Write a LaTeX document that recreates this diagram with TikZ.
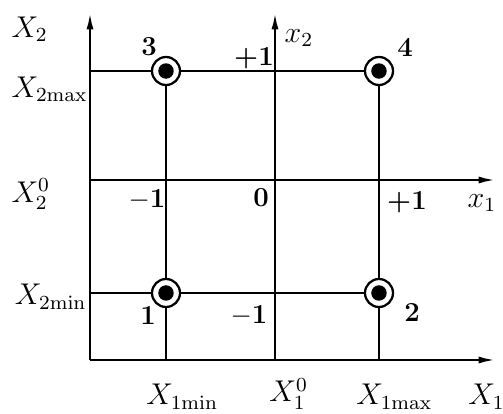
\documentclass[tikz,border=0pt]{standalone}
\usetikzlibrary{arrows.meta}
\begin{document}
\begin{tikzpicture}[x=0.4pt,y=-0.4pt,
  axis/.style={line width=0.9pt,-{Latex[length=6.5pt,width=2.8pt]}},
  grid/.style={line width=0.9pt},
  pt/.style={circle,draw,line width=0.9pt,fill=white,minimum size=11.2pt,inner sep=0pt,
    path picture={\fill[black] (path picture bounding box.center) circle (3.1pt);}},
  lbl/.style={inner sep=0pt,font=\fontsize{11}{13}\selectfont\bfseries},
  mlbl/.style={inner sep=0pt,font=\fontsize{12}{14}\selectfont}]
\useasboundingbox (0,0) rectangle (503,414);
% axis coordinates
\coordinate (o) at (90,360);
\coordinate (ytop) at (90,13);
\coordinate (xend) at (495,360);
\coordinate (x2bot) at (275,360);
\coordinate (x2top) at (275,13);
\coordinate (x1left) at (90,180);
\coordinate (x1right) at (495,180);
\coordinate (a3) at (90,71);
\coordinate (a1) at (90,293);
\coordinate (b1) at (166,360);
\coordinate (b2) at (379,360);
% axes
\draw[axis] (o) -- (ytop);
\draw[axis] (o) -- (xend);
\draw[axis] (x2bot) -- (x2top);
\draw[axis] (x1left) -- (x1right);
% points
\node[pt] (p3) at (166,71) {};
\node[pt] (p4) at (379,71) {};
\node[pt] (p1) at (166,293) {};
\node[pt] (p2) at (379,293) {};
% grid lines
\draw[grid] (a3) -- (p3) -- (p4);
\draw[grid] (a1) -- (p1) -- (p2);
\draw[grid] (p3) -- (p1) -- (b1);
\draw[grid] (p4) -- (p2) -- (b2);
% point labels
\node[lbl] (n3) at (149,47) {3};
\node[lbl] (n4) at (405,47) {4};
\node[lbl] (n1) at (148,315) {1};
\node[lbl] (n2) at (412,312) {2};
% coded axis labels
\node[lbl] (tp1) at (254,58) {+1};
\node[lbl] (lm1) at (147,200) {$-$1};
\node[lbl] (zero) at (261,198) {0};
\node[lbl] (rp1) at (407,202) {+1};
\node[lbl] (bm1) at (249,316) {$-$1};
\node[mlbl] (lx2) at (299,38) {$x_2$};
\node[mlbl] (lx1) at (482,203) {$x_1$};
% natural labels
\node[mlbl,anchor=base west] (LX2) at (11,37) {$X_2$};
\node[mlbl,anchor=base east] (LX2max) at (88,97) {$X_{\mathrm{2max}}$};
\node[mlbl,anchor=base west] (LX20) at (11,202) {$X_2^0$};
\node[mlbl,anchor=base east] (LX2min) at (87,305) {$X_{\mathrm{2min}}$};
\node[mlbl,anchor=base west] (LX1min) at (146,405) {$X_{\mathrm{1min}}$};
\node[mlbl,anchor=base west] (LX10) at (269,402) {$X_1^0$};
\node[mlbl,anchor=base west] (LX1max) at (356,405) {$X_{\mathrm{1max}}$};
\node[mlbl,anchor=base west] (LX1) at (468,405) {$X_1$};
\end{tikzpicture}
\end{document}
